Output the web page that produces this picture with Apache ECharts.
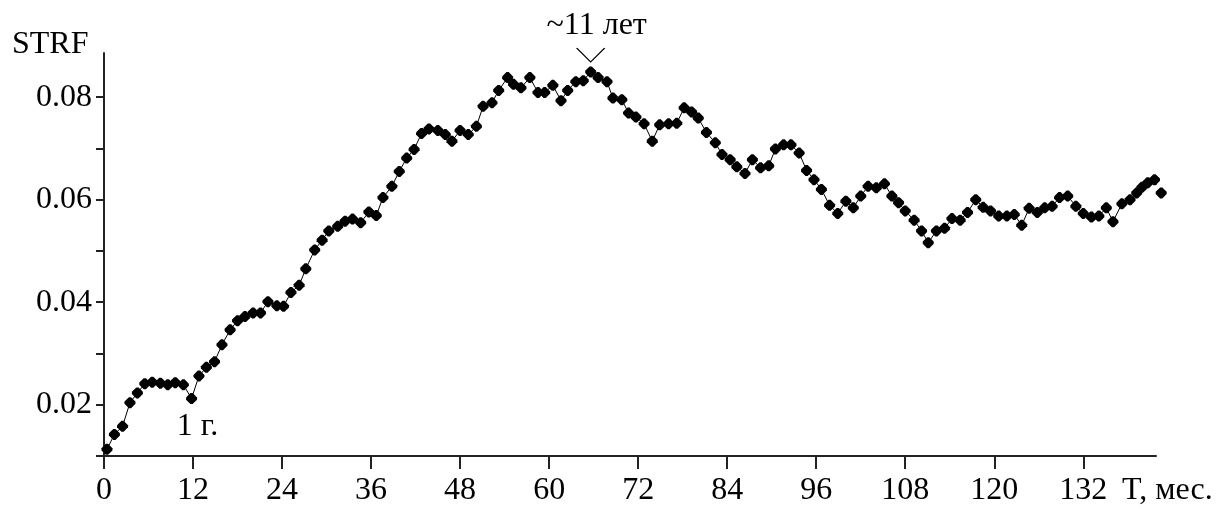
<!DOCTYPE html>
<html>
<head>
<meta charset="utf-8">
<script src="https://cdn.jsdelivr.net/npm/echarts@6/dist/echarts.min.js"></script>
<style>
    html, body { margin: 0; padding: 0; background: #fff; }
    #strf_chart { width: 1232px; height: 508px; }
</style>
</head>
<body>
<div id="strf_chart"></div>
<script>
// months (T), one per marker
var months = [
    0.4, 1.4, 2.5, 3.5, 4.5, 5.5, 6.5, 7.6, 8.6, 9.6, 10.7, 11.8, 12.8, 13.8, 14.9, 15.9, 17.0, 18.0, 19.0, 20.1,
    21.1, 22.1, 23.3, 24.2, 25.2, 26.3, 27.2, 28.4, 29.4, 30.3, 31.5, 32.5, 33.5, 34.6, 35.7, 36.7, 37.6, 38.8, 39.8, 40.8,
    41.8, 42.8, 43.8, 45.0, 46.0, 46.9, 48.0, 49.1, 50.2, 51.1, 52.3, 53.2, 54.4, 55.2, 56.2, 57.4, 58.5, 59.4, 60.5, 61.6,
    62.5, 63.6, 64.6, 65.6, 66.6, 67.8, 68.6, 69.8, 70.7, 71.7, 72.8, 73.9, 74.9, 76.1, 77.2, 78.2, 79.2, 80.1, 81.2, 82.4,
    83.3, 84.4, 85.3, 86.4, 87.4, 88.5, 89.6, 90.5, 91.6, 92.6, 93.7, 94.7, 95.7, 96.7, 97.8, 98.9, 100.0, 101.0, 102.0, 103.0,
    104.1, 105.2, 106.2, 107.1, 108.0, 109.2, 110.2, 111.1, 112.2, 113.3, 114.3, 115.4, 116.4, 117.5, 118.5, 119.5, 120.6, 121.7, 122.7, 123.7,
    124.7, 125.8, 126.8, 127.8, 128.8, 129.9, 131.0, 132.0, 133.1, 134.1, 135.1, 136.0, 137.2, 138.3, 139.2, 139.9, 140.7, 141.6, 142.5
];
// STRF values
var strf = [
    0.0113, 0.0142, 0.0158, 0.0204, 0.0223, 0.0241, 0.0244, 0.0242, 0.0239, 0.0243, 0.0239, 0.0212, 0.0256, 0.0273, 0.0284, 0.0317, 0.0346, 0.0364, 0.0372, 0.0379,
    0.0379, 0.0401, 0.0393, 0.0392, 0.0419, 0.0433, 0.0465, 0.0502, 0.0521, 0.0539, 0.0548, 0.0558, 0.0562, 0.0555, 0.0576, 0.0569, 0.0604, 0.0626, 0.0655, 0.0681,
    0.0698, 0.0729, 0.0738, 0.0735, 0.0727, 0.0714, 0.0735, 0.0727, 0.0743, 0.0782, 0.0789, 0.0813, 0.0838, 0.0825, 0.0818, 0.0838, 0.0809, 0.0809, 0.0823, 0.0793,
    0.0813, 0.0830, 0.0832, 0.0849, 0.0838, 0.0830, 0.0798, 0.0795, 0.0769, 0.0761, 0.0748, 0.0714, 0.0746, 0.0748, 0.0749, 0.0779, 0.0771, 0.0759, 0.0731, 0.0711,
    0.0688, 0.0678, 0.0664, 0.0651, 0.0678, 0.0662, 0.0666, 0.0699, 0.0707, 0.0707, 0.0691, 0.0657, 0.0639, 0.0620, 0.0589, 0.0573, 0.0597, 0.0584, 0.0607, 0.0626,
    0.0623, 0.0631, 0.0607, 0.0594, 0.0578, 0.0560, 0.0539, 0.0516, 0.0539, 0.0544, 0.0563, 0.0560, 0.0575, 0.0600, 0.0585, 0.0578, 0.0568, 0.0568, 0.0571, 0.0550,
    0.0583, 0.0575, 0.0584, 0.0587, 0.0604, 0.0607, 0.0587, 0.0573, 0.0566, 0.0568, 0.0584, 0.0557, 0.0592, 0.0600, 0.0613, 0.0624, 0.0633, 0.0639, 0.0613
];
// ticks and labels
var xTicks = [0, 12, 24, 36, 48, 60, 72, 84, 96, 108, 120, 132];
var yLabels = [0.02, 0.04, 0.06, 0.08];
var yTicks = [0.01, 0.02, 0.03, 0.04, 0.05, 0.06, 0.07, 0.08];
// annotations
var peakNote = { text: '~11 лет', at: [65.6, 0.0849] };
var yearNote = { text: '1 г.', at: [11.8, 0.0212] };

var serif = '"Liberation Serif", "Times New Roman", serif';
var pts = [];
for (var i = 0; i < months.length; i++) {
    pts.push([months[i], strf[i]]);
}

var myChart = echarts.init(document.getElementById('strf_chart'));
var option = {
    animation: false,
    backgroundColor: '#fff',
    grid: { left: 104, top: 53, right: 76, bottom: 52 },
    textStyle: { fontFamily: serif },
    graphic: [
        { type: 'text', left: 12, top: 29, style: { text: 'STRF', font: '32px ' + serif, fill: '#000' } },
        { type: 'text', left: 1122, top: 475, style: { text: 'T, мес.', font: '32px ' + serif, fill: '#000' } }
    ],
    xAxis: {
        type: 'value', min: 0, max: 141.8,
        axisLine: { show: true, lineStyle: { color: '#222', width: 2 } },
        axisTick: { show: true, inside: false, length: 13, customValues: xTicks, lineStyle: { color: '#222', width: 2 } },
        axisLabel: { customValues: xTicks, margin: 19, color: '#000', fontSize: 32, fontFamily: serif },
        splitLine: { show: false }
    },
    yAxis: {
        type: 'value', min: 0.01, max: 0.0886,
        axisLine: { show: true, lineStyle: { color: '#222', width: 2 } },
        axisTick: { show: true, inside: false, length: 8, customValues: yTicks, lineStyle: { color: '#222', width: 2 } },
        axisLabel: {
            customValues: yLabels, margin: 12, color: '#000', fontSize: 32, fontFamily: serif,
            formatter: function (v) { return v.toFixed(2); }
        },
        splitLine: { show: false }
    },
    series: [{
        type: 'line',
        data: pts,
        clip: false,
        symbol: 'path://M4,0 L6,0 L10,4 L10,6 L6,10 L4,10 L0,6 L0,4 Z',
        symbolSize: 11,
        showAllSymbol: true,
        lineStyle: { color: '#000', width: 1 },
        itemStyle: { color: '#000' },
        markPoint: {
            silent: true,
            data: [
                {
                    coord: peakNote.at,
                    symbol: 'path://M0,0 L14,14 L28,0',
                    symbolSize: [28, 14],
                    symbolOffset: [0, -17],
                    itemStyle: { color: 'none', borderColor: '#000', borderWidth: 1 },
                    label: {
                        show: true, position: 'top', distance: 5, offset: [6, 0],
                        formatter: peakNote.text, color: '#000', fontSize: 32, fontFamily: serif
                    }
                },
                {
                    coord: yearNote.at,
                    symbol: 'circle',
                    symbolSize: 0,
                    label: {
                        show: true, position: 'inside', offset: [6, 28],
                        formatter: yearNote.text, color: '#000', fontSize: 32, fontFamily: serif
                    }
                }
            ]
        }
    }]
};
myChart.setOption(option);
</script>
</body>
</html>
